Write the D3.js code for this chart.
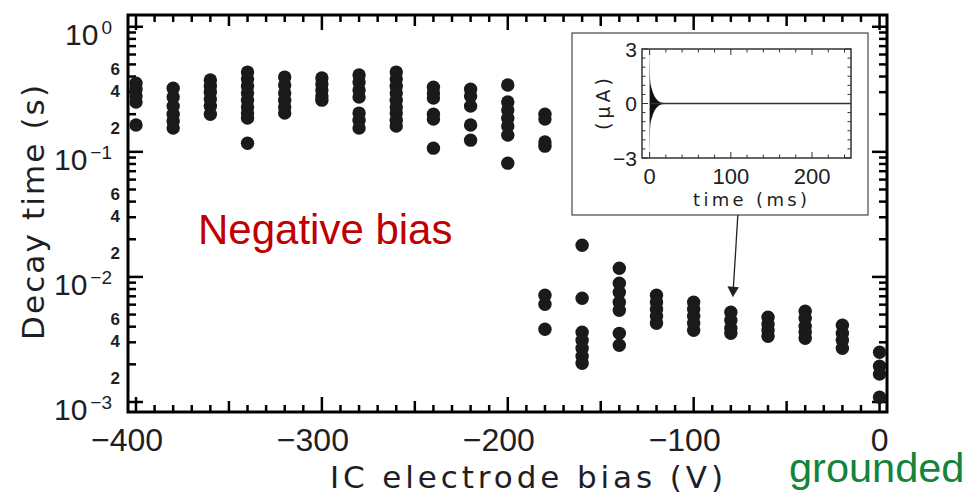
<!DOCTYPE html>
<html>
<head>
<meta charset="utf-8">
<script src="https://cdn.jsdelivr.net/npm/d3@7"></script>
<style>
  body { margin: 0; background: #fff; }
</style>
</head>
<body>
<div id="chart"></div>
<script>
// bias values (V) and the decay times (s) measured at each bias
const biasV = [-400, -380, -360, -340, -320, -300, -280, -260, -240, -220, -200,
               -180, -160, -140, -120, -100, -80, -60, -40, -20, 0]
const decayS = [
  [0.354, 0.317, 0.279, 0.250, 0.164],
  [0.323, 0.274, 0.232, 0.200, 0.176, 0.155],
  [0.375, 0.335, 0.300, 0.264, 0.232, 0.200],
  [0.434, 0.382, 0.335, 0.295, 0.259, 0.228, 0.204, 0.186, 0.117],
  [0.396, 0.342, 0.295, 0.259, 0.228, 0.204],
  [0.389, 0.348, 0.312, 0.279, 0.259],
  [0.411, 0.361, 0.312, 0.274, 0.204, 0.179, 0.155],
  [0.434, 0.382, 0.335, 0.295, 0.259, 0.228, 0.204, 0.179, 0.161],
  [0.329, 0.295, 0.269, 0.200, 0.183, 0.107],
  [0.317, 0.279, 0.232, 0.164, 0.124],
  [0.342, 0.250, 0.216, 0.186, 0.161, 0.136, 0.0812],
  [0.200, 0.183, 0.120, 0.111, 0.00714, 0.00605, 0.00382],
  [0.0179, 0.00676, 0.00361, 0.00312, 0.00269, 0.00232, 0.00204],
  [0.01174, 0.00891, 0.00754, 0.00627, 0.00542, 0.00354, 0.00284],
  [0.00714, 0.00627, 0.00551, 0.00485, 0.00426],
  [0.00627, 0.00551, 0.00485, 0.00426, 0.00375],
  [0.00522, 0.00450, 0.00389, 0.00354],
  [0.00476, 0.00418, 0.00375, 0.00335],
  [0.00532, 0.00467, 0.00403, 0.00361, 0.00323],
  [0.00411, 0.00354, 0.00312, 0.00269],
  [0.00250, 0.00193, 0.00167, 0.00109]
]
const xTickLabels = [-400, -300, -200, -100, 0]
const yDecades = [-3, -2, -1, 0]
const yMinorLabels = [2, 4, 6]

// inset: current trace envelope (uA) vs time (ms)
const insetTime = [0, 0.5, 1, 2, 3, 4, 6, 8, 10, 12, 14, 17, 248]
const insetEnv = [3, 1.4, 1.1, 0.9, 0.75, 0.6, 0.4, 0.26, 0.16, 0.1, 0.06, 0.03, 0.03]
const insetYTicks = [-3, 0, 3]
const insetXTicks = [0, 100, 200]

const W = 969, H = 495
const pL = 128, pR = 887, pT = 15, pB = 412
const ink = "#1e1e24"

const svg = d3.select("#chart").append("svg")
  .attr("width", W).attr("height", H)

const x = d3.scaleLinear().domain([-404.3, 4]).range([pL, pR])
const y = d3.scaleLog().domain([Math.pow(10, -3.08), Math.pow(10, 0.094)]).range([pB, pT])

// ticks on all four sides, pointing inward
const xMinor = d3.range(-400, 1, 10)
const tickLen = v => v % 100 === 0 ? 15 : (v % 50 === 0 ? 11 : 7)
const tk = svg.append("g").attr("stroke", "#000").attr("stroke-width", 2.5)
xMinor.forEach(v => {
  tk.append("line").attr("x1", x(v)).attr("x2", x(v)).attr("y1", pB).attr("y2", pB - tickLen(v))
  tk.append("line").attr("x1", x(v)).attr("x2", x(v)).attr("y1", pT).attr("y2", pT + tickLen(v))
})
const yTicks = []
yDecades.forEach(e => {
  yTicks.push({ v: Math.pow(10, e), major: true })
  if (e < 0) d3.range(2, 10).forEach(m => yTicks.push({ v: m * Math.pow(10, e), major: false }))
})
yTicks.forEach(t => {
  const L = t.major ? 15 : 8
  tk.append("line").attr("x1", pL).attr("x2", pL + L).attr("y1", y(t.v)).attr("y2", y(t.v))
  tk.append("line").attr("x1", pR).attr("x2", pR - L).attr("y1", y(t.v)).attr("y2", y(t.v))
})

// frame
svg.append("rect")
  .attr("x", pL).attr("y", pT)
  .attr("width", pR - pL).attr("height", pB - pT)
  .attr("fill", "none").attr("stroke", "#000").attr("stroke-width", 3)

// data points
const pts = []
biasV.forEach((b, i) => decayS[i].forEach(v => pts.push({ b, v })))
svg.append("g").selectAll("circle")
  .data(pts).enter().append("circle")
  .attr("cx", d => x(d.b))
  .attr("cy", d => y(d.v))
  .attr("r", 6.7)
  .attr("fill", "#1a1a1a")

// x tick labels (digits centred on the tick)
svg.append("g").selectAll("text")
  .data(xTickLabels).enter().append("text")
  .attr("x", d => x(d) - (d < 0 ? 9 : 0))
  .attr("y", 451)
  .attr("text-anchor", "middle")
  .style("font-family", "Liberation Sans, Arial, sans-serif")
  .style("font-size", "32px")
  .attr("fill", ink)
  .text(d => d < 0 ? "\u2212" + Math.abs(d) : d)

// y tick labels (they sit a little below their ticks in the original)
const labOff = 12
yDecades.forEach(e => {
  const t = svg.append("text")
    .attr("x", 112).attr("y", y(Math.pow(10, e)) + labOff)
    .attr("dy", "0.36em")
    .attr("text-anchor", "end")
    .style("font-family", "Liberation Sans, Arial, sans-serif")
    .attr("fill", ink)
  t.append("tspan").style("font-size", "30px").text("10")
  t.append("tspan").style("font-size", "19px").attr("dx", 3).attr("dy", -11)
    .text(e === 0 ? "0" : "\u2212" + Math.abs(e))
  if (e < 0) yMinorLabels.forEach(m => {
    svg.append("text")
      .attr("x", 120).attr("y", y(m * Math.pow(10, e)) + labOff + 2)
      .attr("dy", "0.36em")
      .attr("text-anchor", "end")
      .style("font-family", "Liberation Sans, Arial, sans-serif")
      .style("font-size", "17px").style("font-weight", "bold")
      .attr("fill", ink)
      .text(m)
  })
})

// axis titles
svg.append("text")
  .attr("x", 330).attr("y", 488)
  .attr("textLength", 393).attr("lengthAdjust", "spacing")
  .style("font-family", "DejaVu Sans, sans-serif")
  .style("font-size", "31px")
  .attr("fill", ink)
  .text("IC electrode bias (V)")

svg.append("text")
  .attr("transform", "translate(44,340) rotate(-90)")
  .attr("textLength", 255).attr("lengthAdjust", "spacing")
  .style("font-family", "DejaVu Sans, sans-serif")
  .style("font-size", "31px")
  .attr("fill", ink)
  .text("Decay time (s)")

// annotations
svg.append("text")
  .attr("x", 198).attr("y", 244)
  .style("font-family", "Liberation Sans, Arial, sans-serif")
  .style("font-size", "42px")
  .attr("fill", "#c00000")
  .text("Negative bias")

svg.append("text")
  .attr("x", 789).attr("y", 482)
  .style("font-family", "Liberation Sans, Arial, sans-serif")
  .style("font-size", "41.5px")
  .attr("fill", "#13843a")
  .text("grounded")

// inset
const ib = { x0: 572, y0: 33, x1: 868, y1: 215 }
svg.append("rect")
  .attr("x", ib.x0).attr("y", ib.y0)
  .attr("width", ib.x1 - ib.x0).attr("height", ib.y1 - ib.y0)
  .attr("fill", "#fff").attr("stroke", "#555").attr("stroke-width", 1.3)

const ip = { l: 642, r: 851, t: 49, b: 158 }
const ix = d3.scaleLinear().domain([-9.4, 248]).range([ip.l, ip.r])
const iy = d3.scaleLinear().domain([-3, 3]).range([ip.b, ip.t])

const itk = svg.append("g").attr("stroke", "#333").attr("stroke-width", 1)
d3.range(0, 248, 20).forEach(v => {
  const L = v % 100 === 0 ? 6 : 3.5
  itk.append("line").attr("x1", ix(v)).attr("x2", ix(v)).attr("y1", ip.b).attr("y2", ip.b - L)
  itk.append("line").attr("x1", ix(v)).attr("x2", ix(v)).attr("y1", ip.t).attr("y2", ip.t + L)
})
d3.range(-3, 3.01, 0.5).forEach(v => {
  const L = v % 3 === 0 ? 6 : 3.5
  itk.append("line").attr("x1", ip.l).attr("x2", ip.l + L).attr("y1", iy(v)).attr("y2", iy(v))
  itk.append("line").attr("x1", ip.r).attr("x2", ip.r - L).attr("y1", iy(v)).attr("y2", iy(v))
})

const tr = insetTime.map((t, i) => ({ t, a: insetEnv[i] }))
svg.append("path")
  .datum(tr)
  .attr("d", d3.area().x(d => ix(d.t)).y0(d => iy(-d.a)).y1(d => iy(d.a)))
  .attr("fill", "#111")
svg.append("line")
  .attr("x1", ix(0)).attr("x2", ix(248)).attr("y1", iy(0)).attr("y2", iy(0))
  .attr("stroke", "#333").attr("stroke-width", 1.6)

svg.append("rect")
  .attr("x", ip.l).attr("y", ip.t)
  .attr("width", ip.r - ip.l).attr("height", ip.b - ip.t)
  .attr("fill", "none").attr("stroke", "#333").attr("stroke-width", 1.5)

svg.append("g").selectAll("text")
  .data(insetYTicks).enter().append("text")
  .attr("x", 637).attr("y", d => iy(d)).attr("dy", "0.36em")
  .attr("text-anchor", "end")
  .style("font-family", "Liberation Sans, Arial, sans-serif")
  .style("font-size", "21px")
  .attr("fill", ink)
  .text(d => d < 0 ? "\u2212" + Math.abs(d) : d)

svg.append("g").selectAll("text")
  .data(insetXTicks).enter().append("text")
  .attr("x", d => ix(d)).attr("y", 184)
  .attr("text-anchor", "middle")
  .style("font-family", "Liberation Sans, Arial, sans-serif")
  .style("font-size", "22px")
  .attr("fill", ink)
  .text(d => d)

svg.append("text")
  .attr("x", 693).attr("y", 206)
  .attr("textLength", 114).attr("lengthAdjust", "spacing")
  .style("font-family", "DejaVu Sans, sans-serif")
  .style("font-size", "18px")
  .attr("fill", ink)
  .text("time (ms)")

svg.append("text")
  .attr("transform", "translate(610,104) rotate(-90)")
  .attr("text-anchor", "middle")
  .attr("textLength", 52).attr("lengthAdjust", "spacing")
  .style("font-family", "DejaVu Sans, sans-serif")
  .style("font-size", "19px")
  .attr("fill", ink)
  .text("(\u03bcA)")

// arrow from the inset to the -80 V points
const ax = x(-80)
const colTop = y(d3.max(decayS[biasV.indexOf(-80)]))
svg.append("line")
  .attr("x1", ax + 7).attr("y1", ib.y1)
  .attr("x2", ax + 2.5).attr("y2", colTop - 24)
  .attr("stroke", "#222").attr("stroke-width", 1.3)
svg.append("path")
  .attr("d", `M${ax - 3.5},${colTop - 26} L${ax + 8},${colTop - 25} L${ax + 2},${colTop - 15} Z`)
  .attr("fill", "#222")
</script>
</body>
</html>
